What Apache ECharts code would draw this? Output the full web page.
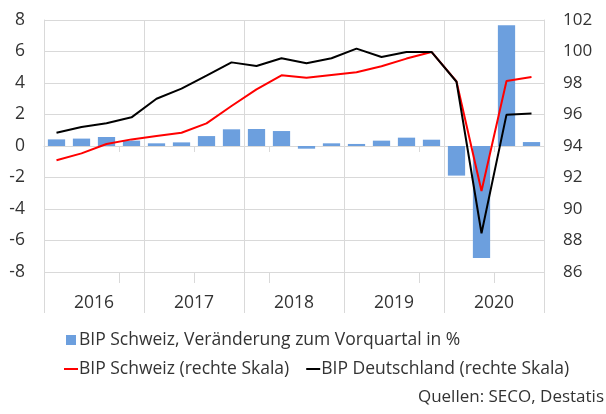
<!DOCTYPE html>
<html>
<head>
<meta charset="utf-8">
<script src="https://cdn.jsdelivr.net/npm/echarts@6/dist/echarts.min.js"></script>
<style>html,body{margin:0;padding:0;background:#fff}#c{width:606px;height:414px}</style>
</head>
<body>
<div id="c"></div>
<script>
var quarters = ['2016 Q1','2016 Q2','2016 Q3','2016 Q4','2017 Q1','2017 Q2','2017 Q3','2017 Q4','2018 Q1','2018 Q2','2018 Q3','2018 Q4','2019 Q1','2019 Q2','2019 Q3','2019 Q4','2020 Q1','2020 Q2','2020 Q3','2020 Q4'];
var years = ['2016','2017','2018','2019','2020'];
var chChange = [0.42,0.47,0.57,0.34,0.17,0.23,0.63,1.06,1.08,0.95,-0.17,0.17,0.13,0.34,0.53,0.40,-1.88,-7.11,7.66,0.25];
var chIndex = [93.09,93.53,94.13,94.42,94.63,94.84,95.44,96.54,97.60,98.49,98.34,98.51,98.68,99.06,99.55,99.97,98.10,91.14,98.13,98.38];
var deIndex = [94.84,95.21,95.44,95.82,97.00,97.64,98.47,99.31,99.08,99.57,99.25,99.57,100.18,99.65,99.97,99.97,98.08,88.46,95.99,96.07];
var leftTicks = {min:-8, max:8, interval:2};
var rightTicks = {min:86, max:102, interval:2};

var FONT = 'Open Sans';
var TXT = '#333333';
var GRID = '#d9d9d9';
var names = ['BIP Schweiz, Veränderung zum Vorquartal in %','BIP Schweiz (rechte Skala)','BIP Deutschland (rechte Skala)'];

var chart = echarts.init(document.getElementById('c'));
chart.setOption({
  animation:false,
  grid:{left:44,right:62,top:20,bottom:142,containLabel:false},
  legend:[
    {data:[{name:names[0],icon:'rect'}],left:66,top:331,padding:0,itemWidth:10,itemHeight:10,itemGap:10,
     textStyle:{fontFamily:FONT,fontSize:17.5,color:TXT,padding:[0,0,0,-2]}},
    {data:[{name:names[1],icon:'rect'},{name:names[2],icon:'rect'}],left:64,top:360,padding:0,itemWidth:14,itemHeight:2,itemGap:17,
     textStyle:{fontFamily:FONT,fontSize:17.5,color:TXT,padding:[0,0,0,-4]}}
  ],
  xAxis:[
    {type:'category',data:quarters,boundaryGap:true,
     axisLine:{show:true,onZero:true,onZeroAxisIndex:0,lineStyle:{color:GRID,width:1}},
     axisTick:{show:true,length:6,lineStyle:{color:GRID}},
     axisLabel:{show:false},
     splitLine:{show:true,interval:3,lineStyle:{color:GRID,width:1}}},
    {type:'category',data:years,position:'bottom',boundaryGap:true,
     axisLine:{show:false,onZero:false},
     axisTick:{show:true,length:41,lineStyle:{color:GRID}},
     axisLabel:{show:true,margin:22,fontFamily:FONT,fontSize:17.5,color:TXT},
     splitLine:{show:false}},
    {type:'category',data:quarters,position:'bottom',boundaryGap:true,
     axisLine:{show:false,onZero:false},
     axisTick:{show:true,length:11,lineStyle:{color:GRID}},
     axisLabel:{show:false},splitLine:{show:false}}
  ],
  yAxis:[
    {type:'value',min:leftTicks.min,max:leftTicks.max,interval:leftTicks.interval,position:'left',
     axisLine:{show:true,lineStyle:{color:GRID}},axisTick:{show:false},
     axisLabel:{margin:19,fontFamily:FONT,fontSize:17.5,color:TXT},
     splitLine:{show:true,lineStyle:{color:GRID}}},
    {type:'value',min:rightTicks.min,max:rightTicks.max,interval:rightTicks.interval,position:'right',
     axisLine:{show:true,lineStyle:{color:GRID}},axisTick:{show:false},
     axisLabel:{margin:19,fontFamily:FONT,fontSize:17,color:TXT},
     splitLine:{show:false}}
  ],
  series:[
    {name:names[0],type:'bar',xAxisIndex:0,yAxisIndex:0,data:chChange,barCategoryGap:'31%',
     itemStyle:{color:'#6C9FDE'},z:2},
    {name:names[1],type:'line',xAxisIndex:0,yAxisIndex:1,data:chIndex,symbol:'none',
     lineStyle:{color:'#FF0000',width:2},itemStyle:{color:'#FF0000'},z:3},
    {name:names[2],type:'line',xAxisIndex:0,yAxisIndex:1,data:deIndex,symbol:'none',
     lineStyle:{color:'#000000',width:2},itemStyle:{color:'#000000'},z:4}
  ],
  graphic:[
    {type:'text',right:2,top:389,style:{text:'Quellen: SECO, Destatis',font:'17px "Open Sans"',fill:TXT}}
  ]
});
</script>
</body>
</html>
